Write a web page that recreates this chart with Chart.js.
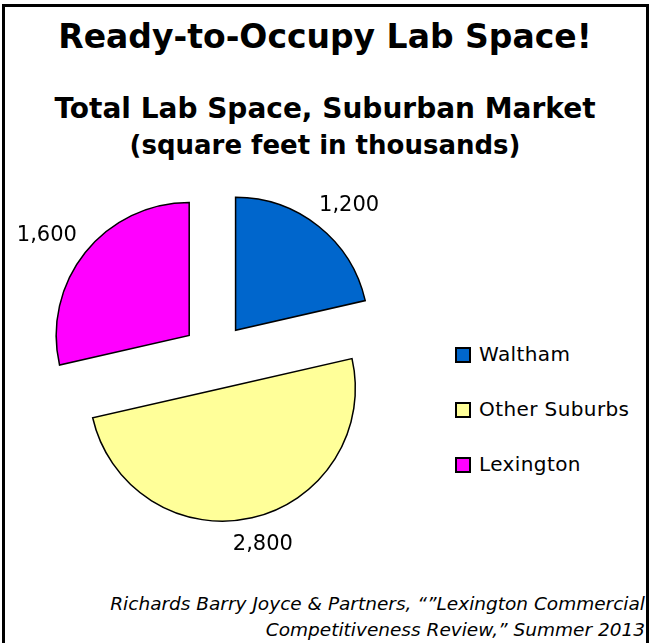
<!DOCTYPE html>
<html>
<head>
<meta charset="utf-8">
<script src="https://cdn.jsdelivr.net/npm/chart.js@4/dist/chart.umd.min.js"></script>
<style>
  html, body { margin:0; padding:0; background:#fff; }
  body { width:650px; height:643px; position:relative; overflow:hidden; font-family:"DejaVu Sans", sans-serif; color:#000; }
  #frame { position:absolute; left:2px; top:4px; width:641px; height:700px; border:3px solid #000; box-sizing:content-box; }
  .t { position:absolute; left:0; width:650px; text-align:center; white-space:nowrap; font-weight:bold; }
  #title { top:15px; font-size:33px; line-height:44px; }
  #sub1 { top:90px; font-size:28px; line-height:38px; }
  #sub2 { top:128px; font-size:26px; line-height:34px; font-weight:bold; }
  #chartBox { position:absolute; left:0; top:136px; width:430px; height:440px; }
  #legend { position:absolute; left:455px; top:340px; }
  .li { position:relative; height:55px; }
  .sw { position:absolute; left:0; top:7px; width:12px; height:12px; border:2px solid #000; }
  .lt { position:absolute; left:24px; top:0; font-size:20px; line-height:28px; white-space:nowrap; letter-spacing:0.4px; }
  .src { position:absolute; right:5px; font-style:italic; font-size:18.5px; line-height:22px; white-space:nowrap; font-family:"DejaVu Sans",sans-serif; }
</style>
</head>
<body>
<div id="frame"></div>
<div class="t" id="title">Ready-to-Occupy Lab Space!</div>
<div class="t" id="sub1">Total Lab Space, Suburban Market</div>
<div class="t" id="sub2">(square feet in thousands)</div>
<div id="chartBox"><canvas id="c" width="430" height="440"></canvas></div>
<div id="legend"></div>
<div class="src" id="src1" style="top:593px;">Richards Barry Joyce &amp; Partners, “”Lexington Commercial</div>
<div class="src" id="src2" style="top:619px;">Competitiveness Review,” Summer 2013</div>
<script>
const categories = ["Waltham", "Other Suburbs", "Lexington"];
const values = [1200, 2800, 1600];
const valueLabels = ["1,200", "2,800", "1,600"];
const colors = ["#0066CC", "#FFFF99", "#FF00FF"];

const EXPLODE = 33;   // distance each slice is pulled out (px)
const RADIUS = 133;   // pie radius (px)

// HTML legend built from the arrays
const leg = document.getElementById('legend');
categories.forEach((c, i) => {
  const row = document.createElement('div'); row.className = 'li';
  const sw = document.createElement('div'); sw.className = 'sw'; sw.style.background = colors[i];
  const tx = document.createElement('div'); tx.className = 'lt'; tx.textContent = c;
  row.appendChild(sw); row.appendChild(tx); leg.appendChild(row);
});

// Draw each arc element translated outward along its mid-angle (exploded pie)
const explodePlugin = {
  id: 'explode',
  beforeDatasetDraw(chart, args) {
    const ctx = chart.ctx;
    const meta = args.meta;
    meta.data.forEach(arc => {
      const mid = (arc.startAngle + arc.endAngle) / 2;
      ctx.save();
      ctx.translate(Math.cos(mid) * EXPLODE, Math.sin(mid) * EXPLODE);
      arc.draw(ctx, chart.chartArea);
      ctx.restore();
    });
    return false;
  }
};

const labelPlugin = {
  id: 'outLabels',
  afterDatasetsDraw(chart) {
    const ctx = chart.ctx;
    const meta = chart.getDatasetMeta(0);
    ctx.save();
    ctx.font = '21px "DejaVu Sans"';
    ctx.fillStyle = '#000';
    ctx.textAlign = 'center';
    ctx.textBaseline = 'middle';
    meta.data.forEach((arc, i) => {
      const mid = (arc.startAngle + arc.endAngle) / 2;
      const ux = Math.cos(mid), uy = Math.sin(mid);
      const D = arc.outerRadius + EXPLODE + 19;
      const txt = valueLabels[i];
      const w = ctx.measureText(txt).width, h = 16;
      const x = arc.x + ux * D + ux * w / 2;
      const y = arc.y + uy * D + uy * h / 2;
      ctx.fillText(txt, x, y);
    });
    ctx.restore();
  }
};

new Chart(document.getElementById('c'), {
  type: 'pie',
  data: {
    labels: categories,
    datasets: [{
      data: values,
      backgroundColor: colors,
      borderColor: '#000',
      borderWidth: 1.5,
      offset: 0,
      radius: RADIUS,
      borderJoinStyle: 'miter'
    }]
  },
  options: {
    responsive: false,
    animation: false,
    events: [],
    layout: { padding: 0 },
    plugins: { legend: { display: false }, tooltip: { enabled: false }, title: { display: false } }
  },
  plugins: [explodePlugin, labelPlugin]
});
</script>
</body>
</html>
